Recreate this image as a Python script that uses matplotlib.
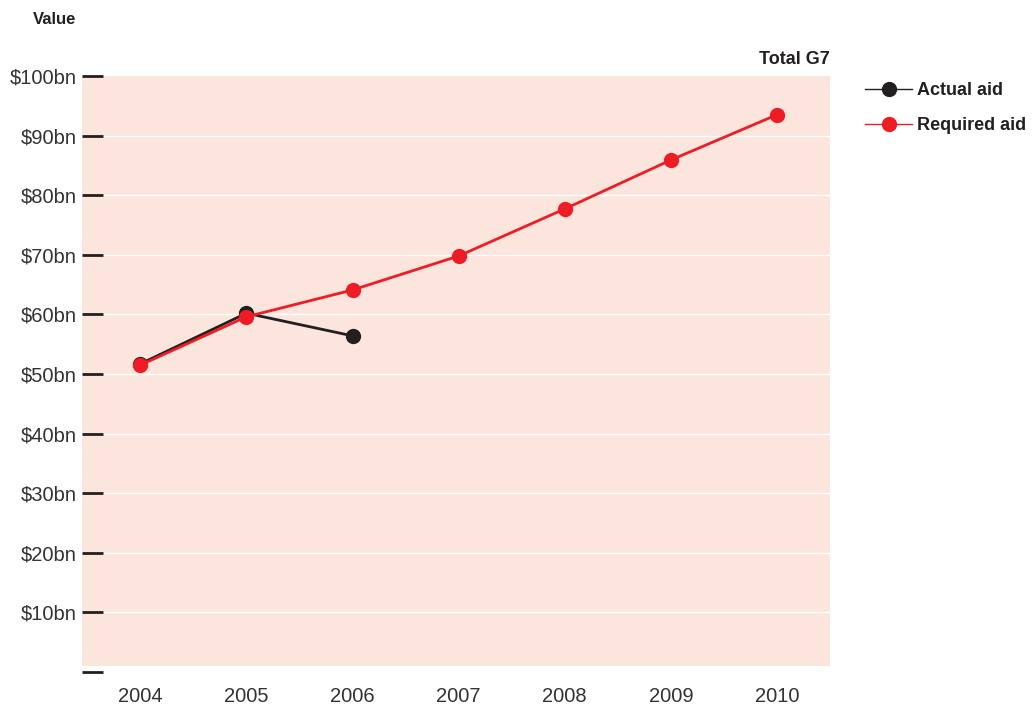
import matplotlib.pyplot as plt
from matplotlib.lines import Line2D

plt.rcParams['font.family'] = ['Liberation Sans', 'DejaVu Sans']

years = [2004, 2005, 2006, 2007, 2008, 2009, 2010]
actual_years = [2004, 2005, 2006]
actual_aid = [51.7, 60.2, 56.4]
required_aid = [51.5, 59.6, 64.1, 69.8, 77.7, 85.9, 93.5]
y_ticks = [0, 10, 20, 30, 40, 50, 60, 70, 80, 90, 100]
y_labels = [''] + ['$%dbn' % v for v in y_ticks[1:]]

red = '#ee1c25'
black = '#231f20'
bg = '#fce5dc'
txt = '#333333'

fig = plt.figure(figsize=(10.35, 7.06), dpi=100)
ax = fig.add_axes([82/1035, 34/706, 748/1035, 596/706])
ax.set_facecolor('none')

# pink panel and white grid
ax.axhspan(1, 100, color=bg, zorder=0, lw=0)
for v in y_ticks[1:-1]:
    ax.axhline(v, color='white', lw=1, zorder=1)

ax.plot(actual_years, actual_aid, color=black, lw=2, marker='o', ms=10, zorder=3)
ax.plot(years, required_aid, color=red, lw=2, marker='o', ms=10, zorder=4)

ax.set_xlim(2003.45, 2010.5)
ax.set_ylim(0, 100)
ax.set_xticks(years)
ax.set_xticklabels([str(y) for y in years])
ax.set_yticks(y_ticks)
ax.set_yticklabels(y_labels)
for s in ax.spines.values():
    s.set_visible(False)
ax.tick_params(axis='y', direction='in', length=15, width=2, color=black,
               pad=4, labelsize=14.5, labelcolor=txt)
ax.tick_params(axis='x', length=0, pad=11, labelsize=14.5, labelcolor=txt)

fig.text(33/1035, 1 - 19/706, 'Value', fontsize=12, fontweight='bold',
         color=black, va='center', ha='left')
ax.text(1.0, 1.027, 'Total G7', transform=ax.transAxes, fontsize=13,
        fontweight='bold', color=black, ha='right', va='center')

handles = [Line2D([], [], color=black, lw=1, marker='o', ms=10),
           Line2D([], [], color=red, lw=1, marker='o', ms=10)]
fig.legend(handles, ['Actual aid', 'Required aid'], loc='upper left',
           bbox_to_anchor=(849/1035, 1 - 66/706), frameon=False,
           prop={'size': 13, 'weight': 'bold'}, handlelength=2.6,
           handletextpad=0.25, labelspacing=1.0, labelcolor=black)

fig.savefig('out.png', dpi=100)
